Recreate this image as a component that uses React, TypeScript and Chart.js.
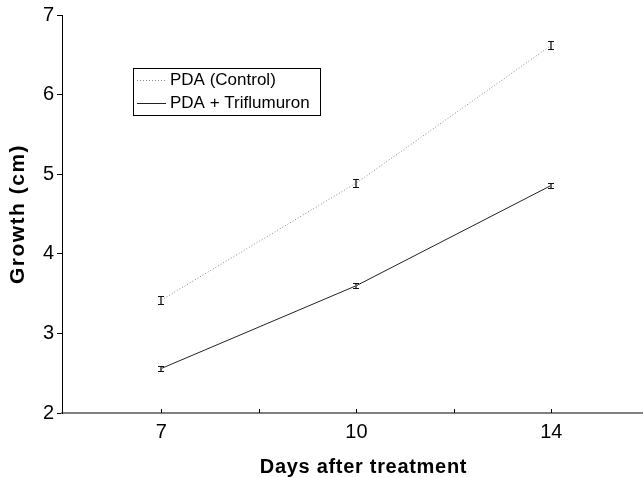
import React, { useEffect, useRef } from "react";
import { Chart, registerables } from "chart.js";

Chart.register(...registerables);

const days = ["7", "10", "14"];
const controlMeans = [3.42, 4.89, 6.62];
const controlErr = [0.05, 0.05, 0.05];
const triflMeans = [2.56, 3.6, 4.86];
const triflErr = [0.03, 0.03, 0.03];
const seriesLabels = ["PDA (Control)", "PDA + Triflumuron"];
const yTicks = [2, 3, 4, 5, 6, 7];
const xTitle = "Days after treatment";
const yTitle = "Growth (cm)";

const FONT = "'Liberation Sans', Arial, sans-serif";

const extrasPlugin = {
  id: "extras",
  afterDatasetsDraw(chart: any) {
    const ctx = chart.ctx;
    const xs = chart.scales.x;
    const ys = chart.scales.y;
    const ca = chart.chartArea;
    // error bars
    chart.data.datasets.forEach((ds: any) => {
      const errs = ds.errors as number[];
      ds.data.forEach((p: any, i: number) => {
        const x = Math.round(xs.getPixelForValue(p.x));
        const yTop = Math.round(ys.getPixelForValue(p.y + errs[i])) + 0.5;
        const yBot = Math.round(ys.getPixelForValue(p.y - errs[i])) + 0.5;
        ctx.save();
        ctx.strokeStyle = "#666";
        ctx.lineWidth = 2;
        ctx.beginPath();
        ctx.moveTo(x, yTop);
        ctx.lineTo(x, yBot);
        ctx.stroke();
        ctx.strokeStyle = "#111";
        ctx.lineWidth = 1;
        ctx.beginPath();
        ctx.moveTo(x - 3, yTop);
        ctx.lineTo(x + 3, yTop);
        ctx.moveTo(x - 3, yBot);
        ctx.lineTo(x + 3, yBot);
        ctx.stroke();
        ctx.restore();
      });
    });
    // inward x ticks
    ctx.save();
    ctx.strokeStyle = "#000";
    ctx.lineWidth = 1;
    xs.ticks.forEach((t: any) => {
      const x = Math.round(xs.getPixelForValue(t.value)) + 0.5;
      ctx.beginPath();
      ctx.moveTo(x, xs.top);
      ctx.lineTo(x, xs.top - 4);
      ctx.stroke();
    });
    ctx.restore();
    // legend box
    const left = ca.left + 71;
    const top = ca.top + 53;
    const w = 187;
    const h = 47;
    ctx.save();
    ctx.fillStyle = "#fff";
    ctx.fillRect(left, top, w, h);
    ctx.strokeStyle = "#000";
    ctx.lineWidth = 1;
    ctx.strokeRect(left + 0.5, top + 0.5, w, h);
    ctx.font = `17px ${FONT}`;
    ctx.textBaseline = "middle";
    chart.data.datasets.forEach((ds: any, i: number) => {
      const cy = top + 12 + i * 23;
      ctx.save();
      ctx.strokeStyle = ds.borderColor;
      ctx.lineWidth = ds.borderWidth;
      ctx.setLineDash(ds.borderDash || []);
      ctx.beginPath();
      ctx.moveTo(left + 4, cy + 0.5);
      ctx.lineTo(left + 33, cy + 0.5);
      ctx.stroke();
      ctx.restore();
      ctx.fillStyle = "#000";
      ctx.fillText(ds.label, left + 37, cy);
    });
    ctx.restore();
    // axis titles
    ctx.save();
    ctx.fillStyle = "#000";
    ctx.textAlign = "center";
    ctx.textBaseline = "alphabetic";
    ctx.font = `bold 20px ${FONT}`;
    (ctx as any).letterSpacing = "0.7px";
    ctx.fillText(xTitle, (ca.left + ca.right) / 2 + 11, chart.height - 4);
    ctx.translate(18, (ca.top + ca.bottom) / 2);
    ctx.rotate(-Math.PI / 2);
    ctx.textBaseline = "middle";
    ctx.font = `bold 21px ${FONT}`;
    (ctx as any).letterSpacing = "1.5px";
    ctx.fillText(yTitle, 0, 0);
    ctx.restore();
  },
};

export default function App() {
  const ref = useRef<HTMLCanvasElement>(null);
  useEffect(() => {
    document.body.style.margin = "0";
    document.body.style.overflow = "hidden";
    const chart = new Chart(ref.current!, {
      type: "line",
      data: {
        datasets: [
          {
            label: seriesLabels[0],
            data: days.map((_, i) => ({ x: i * 2, y: controlMeans[i] })),
            errors: controlErr,
            borderColor: "#8a8a8a",
            borderWidth: 1,
            borderDash: [1, 2],
            pointRadius: 0,
            fill: false,
          } as any,
          {
            label: seriesLabels[1],
            data: days.map((_, i) => ({ x: i * 2, y: triflMeans[i] })),
            errors: triflErr,
            borderColor: "#222",
            borderWidth: 1,
            pointRadius: 0,
            fill: false,
          } as any,
        ],
      },
      options: {
        animation: false,
        responsive: false,
        layout: { padding: { left: 0, right: 0, top: 15, bottom: 0 } },
        plugins: { legend: { display: false }, tooltip: { enabled: false } },
        scales: {
          x: {
            type: "linear",
            min: -1.02,
            max: 4.94,
            afterBuildTicks: (s: any) => {
              s.ticks = [0, 1, 2, 3, 4].map((v) => ({ value: v }));
            },
            afterFit: (s: any) => {
              s.height = 64;
            },
            ticks: {
              autoSkip: false,
              maxRotation: 0,
              padding: 7,
              color: "#000",
              font: { family: FONT, size: 20 },
              callback: (v: any) => (Number(v) % 2 === 0 ? days[Number(v) / 2] : ""),
            },
            grid: { drawOnChartArea: false, drawTicks: false },
            border: { color: "#808080", width: 2 },
          },
          y: {
            min: 2,
            max: 7,
            afterBuildTicks: (s: any) => {
              s.ticks = yTicks.map((v) => ({ value: v }));
            },
            afterFit: (s: any) => {
              s.width = 62;
            },
            ticks: {
              padding: 3,
              color: "#000",
              font: { family: FONT, size: 20 },
            },
            grid: { drawOnChartArea: false, drawTicks: true, tickLength: 5, color: "#000" },
            border: { color: "#000", width: 1 },
          },
        },
      } as any,
      plugins: [extrasPlugin],
    });
    return () => chart.destroy();
  }, []);
  return <canvas ref={ref} width={643} height={477} style={{ display: "block" }} />;
}
